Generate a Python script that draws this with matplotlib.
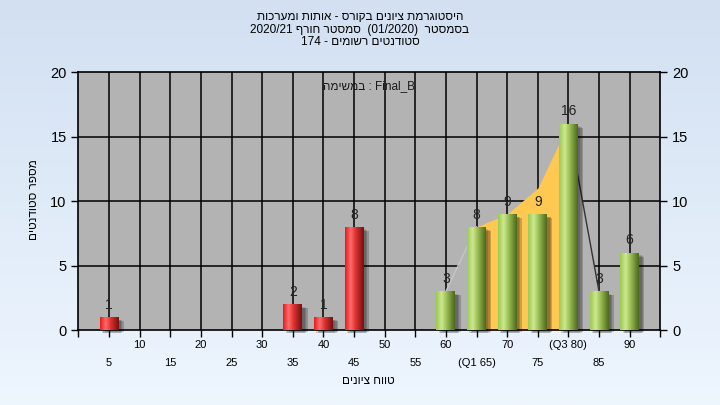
import re
import numpy as np
import matplotlib
matplotlib.use("Agg")
import matplotlib.pyplot as plt
from matplotlib.colors import LinearSegmentedColormap
from matplotlib.patches import Rectangle
from matplotlib.transforms import blended_transform_factory

plt.rcParams['font.family'] = ['Liberation Sans Narrow', 'Liberation Sans', 'DejaVu Sans']

# data
grades = [5, 10, 15, 20, 25, 30, 35, 40, 45, 50, 55, 60, 65, 70, 75, 80, 85, 90]
counts = [1, 0, 0, 0, 0, 0, 2, 1, 8, 0, 0, 3, 8, 9, 9, 16, 3, 6]
tick_labels = ['5', '10', '15', '20', '25', '30', '35', '40', '45', '50', '55',
               '60', '(Q1 65)', '70', '75', '(Q3 80)', '85', '90']
curve_grades = [60, 65, 70, 75, 80, 85]
curve_vals = [3, 8, 9, 11, 16, 3]
q1_grade, q3_grade = 65, 80
fail_below = 55

title_lines = ["היסטוגרמת ציונים בקורס - אותות ומערכות",
               "בסמסטר  (01/2020)  סמסטר חורף 2020/21",
               "סטודנטים רשומים - 174"]
task_word = "במשימה"
task_name = "Final_B"
xlabel = "טווח ציונים"
ylabel = "מספר סטודנטים"


def rtl(s):
    # matplotlib has no bidi: build visual order by hand
    r = s[::-1]
    r = re.sub(r'[0-9/]+', lambda m: m.group(0)[::-1], r)
    return r.translate(str.maketrans('()', ')('))


fig = plt.figure(figsize=(7.2, 4.05), dpi=100)

# background gradient
bg = fig.add_axes([0, 0, 1, 1], zorder=-10)
bg_cmap = LinearSegmentedColormap.from_list('bg', ['#d2e0f2', '#eef6fe'])
bg.imshow(np.linspace(0, 1, 256).reshape(-1, 1), aspect='auto', cmap=bg_cmap,
          extent=[0, 1, 0, 1])
bg.axis('off')

ax = fig.add_axes([0.109, 0.185, 0.808, 0.637])
ax.set_facecolor('#b3b3b3')
x = np.arange(len(grades))

# grid
for xi in x:
    ax.axvline(xi, color='black', lw=1.1, zorder=0.5)
for yv in [5, 10, 15]:
    ax.axhline(yv, color='black', lw=1.1, zorder=0.5)

# area behind the bars
cx = [grades.index(g) for g in curve_grades]
i1, i3 = curve_grades.index(q1_grade), curve_grades.index(q3_grade)
ax.fill_between(cx[:i1 + 1], curve_vals[:i1 + 1], color='#b3b3b3', lw=0, zorder=1)
ax.fill_between(cx[i3:], curve_vals[i3:], color='#b3b3b3', lw=0, zorder=1)
ax.fill_between(cx[i1:i3 + 1], curve_vals[i1:i3 + 1], color='#ffc850', lw=0, zorder=1)
ax.plot(cx[:i1 + 1], curve_vals[:i1 + 1], color='#c6c6c6', lw=1, zorder=1.2)
ax.plot(cx[i3:], curve_vals[i3:], color='#333333', lw=1, zorder=1.2)

# bars with cylinder-like shading
red_cmap = LinearSegmentedColormap.from_list(
    'r', [(0, '#e61a1a'), (0.3, '#ff6c6c'), (0.55, '#e23232'), (1, '#761010')])
green_cmap = LinearSegmentedColormap.from_list(
    'g', [(0, '#9ec852'), (0.3, '#cde990'), (0.6, '#93b74e'), (1, '#4c681e')])
width = 0.62
bars = ax.bar(x, counts, width=width, color='none', lw=0, zorder=3)
grad = np.linspace(0, 1, 64).reshape(1, -1)
for xi, bar, g, c in zip(x, bars, grades, counts):
    if c == 0:
        continue
    x0 = bar.get_x()
    # soft shadow
    for k, a in enumerate([0.14, 0.16, 0.2]):
        ax.add_patch(Rectangle((x0 + 0.08 + 0.045 * k, -0.25 + 0.05 * k), width,
                               c + 0.05 - 0.1 * k, color='black', alpha=a, lw=0,
                               zorder=2, clip_on=False))
    cmap = red_cmap if g < fail_below else green_cmap
    im = ax.imshow(grad, aspect='auto', cmap=cmap, extent=[x0, x0 + width, 0, c],
                   zorder=3)
    im.set_clip_path(bar)
    ax.text(xi, c + 0.95, str(c), ha='center', va='center', fontsize=10,
            color='#222222', zorder=4)

ax.set_xlim(-1, len(grades))
ax.set_ylim(0, 20)
ax.set_yticks([0, 5, 10, 15, 20])
ax.set_xticks(np.arange(-1, len(grades) + 1))
ax.set_xticklabels([])
ax.tick_params(axis='y', labelsize=10.5, right=True, labelright=True, length=5,
               width=1, direction='out')
ax.tick_params(axis='x', length=5, width=1, direction='out')
for s in ax.spines.values():
    s.set_linewidth(1.2)

# two rows of category labels
tr = blended_transform_factory(ax.transData, ax.transAxes)
for xi, lab in zip(x, tick_labels):
    yy = -0.058 if xi % 2 == 1 else -0.128
    ax.text(xi, yy, lab, transform=tr, ha='center', va='center', fontsize=8)

ax.text(0.5, 0.945, rtl(task_word) + " : " + task_name, transform=ax.transAxes,
        ha='center', va='center', fontsize=8.5, color='#1a1a1a')

fig.text(0.512, 1 - 381 / 405, rtl(xlabel), ha='center', va='center', fontsize=8.5)
fig.text(0.047, 0.506, rtl(ylabel), ha='center', va='center', fontsize=8.5,
         rotation=90)
for i, line in enumerate(title_lines):
    fig.text(0.5, 1 - (17 + 12.5 * i) / 405, rtl(line), ha='center', va='center',
             fontsize=8.5)

fig.savefig('out.png', dpi=100)
